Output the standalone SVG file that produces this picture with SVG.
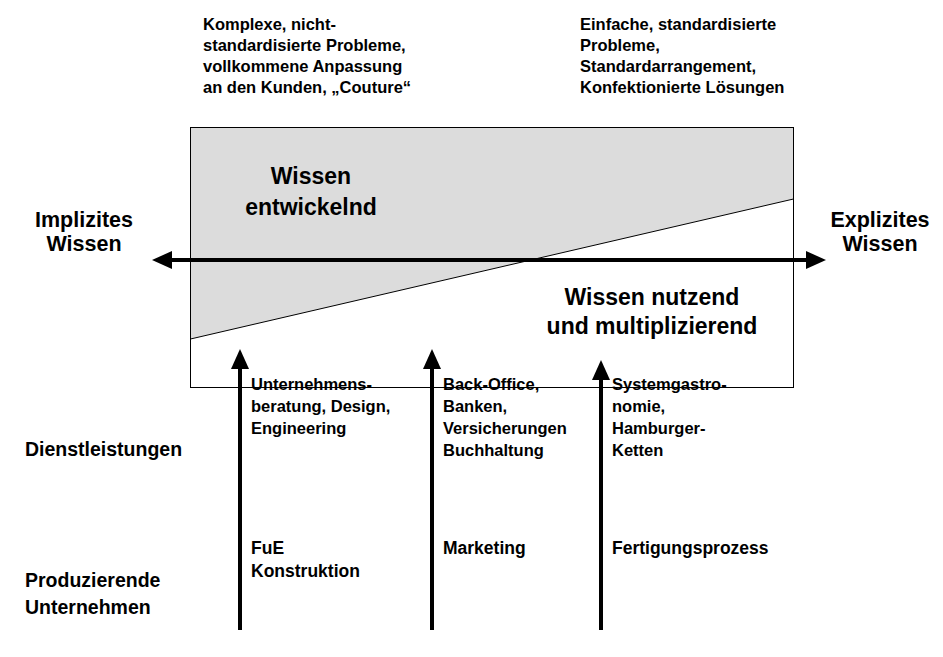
<svg xmlns="http://www.w3.org/2000/svg" width="943" height="657" viewBox="0 0 943 657">
  <style>
    text { font-family: "Liberation Sans", Arial, sans-serif; font-weight: bold; fill: #000; }
    .big { font-size: 21.5px; }
    .inner { font-size: 23px; }
    .mid { font-size: 19.5px; }
    .small { font-size: 16.5px; }
    .prod { font-size: 17.5px; }
    .axis { stroke: #000; stroke-width: 4; fill: none; }
  </style>
  <defs>
    <marker id="head" viewBox="0 0 20 18" refX="2" refY="9" markerWidth="20" markerHeight="18" markerUnits="userSpaceOnUse" orient="auto-start-reverse">
      <path d="M0,0 L20,9 L0,18 Z" fill="#000"/>
    </marker>
  </defs>

  <!-- field: knowledge development vs. utilisation -->
  <g id="field">
    <rect x="190.5" y="127.5" width="603" height="260" fill="#fff"/>
    <polygon points="190.5,127.5 793.5,127.5 793.5,199 190.5,339" fill="#dcdcdc"/>
    <line x1="190.5" y1="339" x2="793.5" y2="199" stroke="#000" stroke-width="1"/>
    <rect x="190.5" y="127.5" width="603" height="260" fill="none" stroke="#000" stroke-width="1"/>
  </g>

  <g id="top-left">
    <text class="small" x="203" y="30">Komplexe, nicht-</text>
    <text class="small" x="203" y="51">standardisierte Probleme,</text>
    <text class="small" x="203" y="72">vollkommene Anpassung</text>
    <text class="small" x="203" y="93">an den Kunden, „Couture“</text>
  </g>
  <g id="top-right">
    <text class="small" x="580" y="30">Einfache, standardisierte</text>
    <text class="small" x="580" y="51">Probleme,</text>
    <text class="small" x="580" y="72">Standardarrangement,</text>
    <text class="small" x="580" y="93">Konfektionierte Lösungen</text>
  </g>

  <g id="developing" text-anchor="middle">
    <text class="inner" x="311" y="184">Wissen</text>
    <text class="inner" x="311" y="215">entwickelnd</text>
  </g>
  <g id="using" text-anchor="middle">
    <text class="inner" x="652" y="305">Wissen nutzend</text>
    <text class="inner" x="652" y="334">und multiplizierend</text>
  </g>

  <g id="implicit" text-anchor="middle">
    <text class="big" x="84" y="227">Implizites</text>
    <text class="big" x="84" y="251">Wissen</text>
  </g>
  <g id="explicit" text-anchor="middle">
    <text class="big" x="880" y="227">Explizites</text>
    <text class="big" x="880" y="251">Wissen</text>
  </g>

  <g id="connectors">
    <line class="axis" x1="170" y1="260" x2="808" y2="260" marker-start="url(#head)" marker-end="url(#head)"/>
    <line class="axis" x1="240" y1="630" x2="240" y2="367" marker-end="url(#head)"/>
    <line class="axis" x1="432" y1="630" x2="432" y2="367" marker-end="url(#head)"/>
    <line class="axis" x1="601" y1="630" x2="601" y2="378" marker-end="url(#head)"/>
  </g>

  <g id="services">
    <text class="mid" x="25" y="456">Dienstleistungen</text>
  </g>
  <g id="consulting">
    <text class="small" x="251" y="390">Unternehmens-</text>
    <text class="small" x="251" y="412">beratung, Design,</text>
    <text class="small" x="251" y="434">Engineering</text>
  </g>
  <g id="back-office">
    <text class="small" x="443" y="390">Back-Office,</text>
    <text class="small" x="443" y="412">Banken,</text>
    <text class="small" x="443" y="434">Versicherungen</text>
    <text class="small" x="443" y="456">Buchhaltung</text>
  </g>
  <g id="gastronomy">
    <text class="small" x="612" y="390">Systemgastro-</text>
    <text class="small" x="612" y="412">nomie,</text>
    <text class="small" x="612" y="434">Hamburger-</text>
    <text class="small" x="612" y="456">Ketten</text>
  </g>

  <g id="manufacturing">
    <text class="mid" x="25" y="587">Produzierende</text>
    <text class="mid" x="25" y="614">Unternehmen</text>
  </g>
  <g id="rnd">
    <text class="prod" x="251" y="554">FuE</text>
    <text class="prod" x="251" y="577">Konstruktion</text>
  </g>
  <g id="marketing">
    <text class="prod" x="443" y="554">Marketing</text>
  </g>
  <g id="production">
    <text class="prod" x="612" y="554">Fertigungsprozess</text>
  </g>
</svg>
